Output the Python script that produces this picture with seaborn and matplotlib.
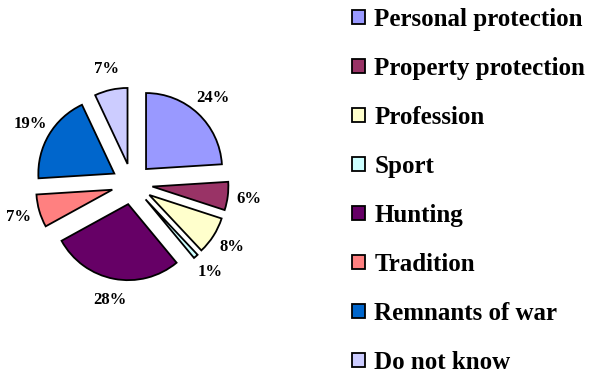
import matplotlib
matplotlib.use("Agg")
import matplotlib.pyplot as plt
import seaborn as sns

# Reasons for owning a weapon (share of respondents, %)
categories = [
    "Personal protection",
    "Property protection",
    "Profession",
    "Sport",
    "Hunting",
    "Tradition",
    "Remnants of war",
    "Do not know",
]
shares = [24, 6, 8, 1, 28, 7, 19, 7]
slice_colors = ["#9999FF", "#993366", "#FFFFCC", "#CCFFFF",
                "#660066", "#FF8080", "#0066CC", "#CCCCFF"]

sns.set_theme(style="white")
plt.rcParams["font.family"] = ["Liberation Serif", "DejaVu Serif"]
plt.rcParams["font.weight"] = "bold"
plt.rcParams["text.color"] = "black"

W, H = 590, 375
fig = plt.figure(figsize=(W / 100, H / 100), dpi=100)

# square axes holding the pie, radius 1 data unit
lim = 1.6
r_px = 76
cx, cy = 132, H - 184
side = 2 * lim * r_px
ax = fig.add_axes([(cx - lim * r_px) / W, (cy - lim * r_px) / H, side / W, side / H])

palette = sns.color_palette(slice_colors)
wedges, texts, autotexts = ax.pie(
    shares,
    colors=palette,
    startangle=90,
    counterclock=False,
    explode=[0.27] * len(shares),
    autopct="%.0f%%",
    pctdistance=1.28,
    wedgeprops=dict(edgecolor="black", linewidth=1.3),
    textprops=dict(fontsize=12, fontweight="bold", color="black"),
)
ax.set_xlim(-lim, lim)
ax.set_ylim(-lim, lim)
ax.set_aspect("equal")
ax.axis("off")

leg = fig.legend(
    wedges, categories,
    loc="upper left",
    bbox_to_anchor=(352 / W, 1 - 8 / H),
    frameon=False,
    prop=dict(family="Liberation Serif", weight="bold", size=18),
    handlelength=0.5,
    handleheight=0.5,
    handletextpad=0.4,
    labelspacing=1.04,
    borderaxespad=0,
    borderpad=0,
)
for t in leg.get_texts():
    t.set_color("black")

fig.savefig("out.png", dpi=100, facecolor="white")
